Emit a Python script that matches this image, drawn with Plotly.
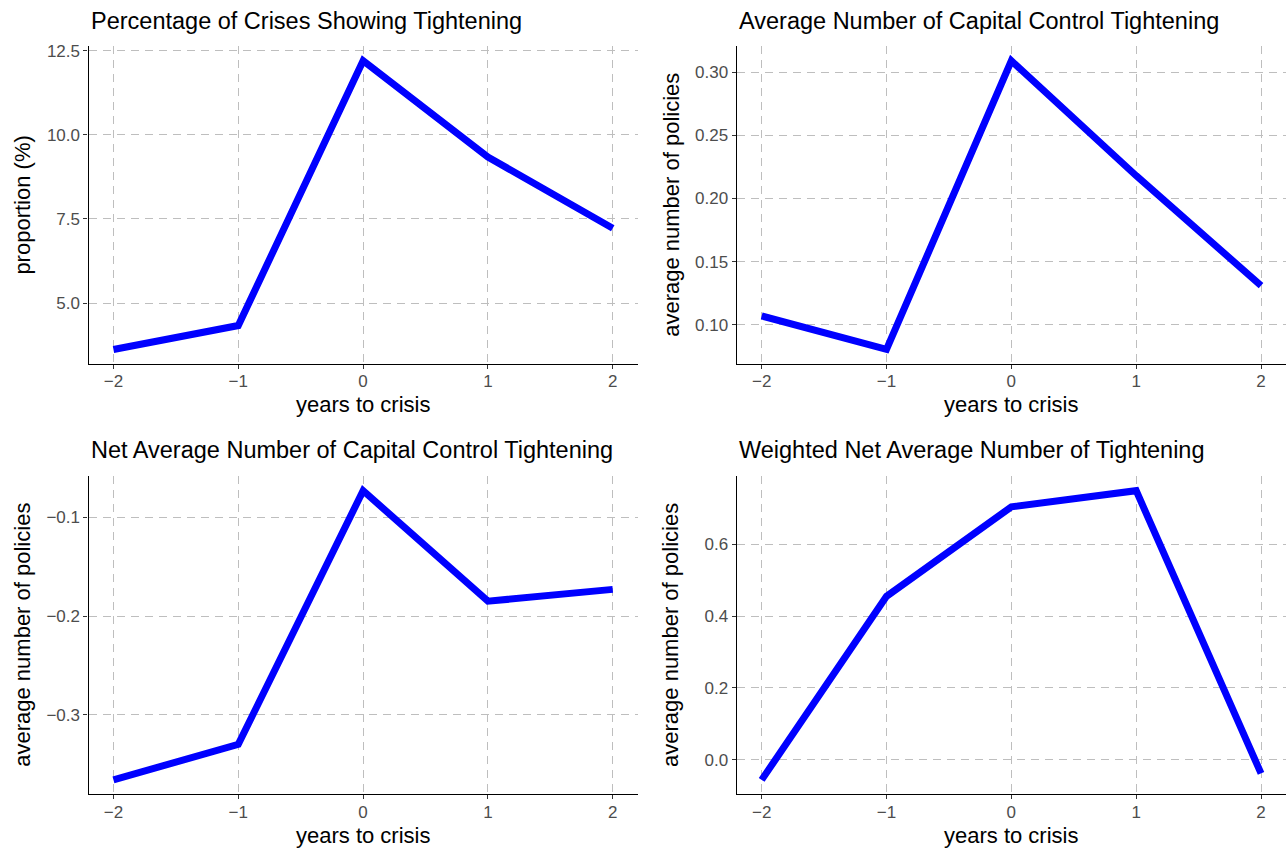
import plotly.graph_objects as go

# ---- data ----
years = [-2, -1, 0, 1, 2]
pct_tightening = [3.62, 4.33, 12.2, 9.34, 7.22]
avg_tightening = [0.107, 0.0805, 0.309, 0.218, 0.131]
net_avg_tightening = [-0.366, -0.330, -0.073, -0.185, -0.173]
weighted_net_avg = [-0.056, 0.455, 0.704, 0.749, -0.038]

titles = [
    "Percentage of Crises Showing Tightening",
    "Average Number of Capital Control Tightening",
    "Net Average Number of Capital Control Tightening",
    "Weighted Net Average Number of Tightening",
]
y_titles = ["proportion (%)", "average number of policies",
            "average number of policies", "average number of policies"]
x_title = "years to crisis"
y_tickvals = [
    [5.0, 7.5, 10.0, 12.5],
    [0.10, 0.15, 0.20, 0.25, 0.30],
    [-0.3, -0.2, -0.1],
    [0.0, 0.2, 0.4, 0.6],
]
y_fmt = [".1f", ".2f", ".1f", ".1f"]
series = [pct_tightening, avg_tightening, net_avg_tightening, weighted_net_avg]

W, H = 1286, 850
# panel geometry in pixels (left, right, top, bottom)
cols = [(88.5, 637.7), (736.7, 1286.0)]
rows = [(41.6, 361.0), (474.0, 794.0)]

fig = go.Figure()
layout = dict(
    width=W, height=H,
    margin=dict(l=0, r=0, t=0, b=0),
    paper_bgcolor="white", plot_bgcolor="white",
    showlegend=False,
    font=dict(family="Liberation Sans, Arial, sans-serif"),
)
annotations = []

for i, vals in enumerate(series):
    r, c = divmod(i, 2)
    xl, xr = cols[c]
    yt, yb = rows[r]
    sfx = "" if i == 0 else str(i + 1)
    fig.add_trace(go.Scatter(
        x=years, y=vals, mode="lines",
        line=dict(color="#0000FF", width=7),
        xaxis="x" + sfx, yaxis="y" + sfx, hoverinfo="skip",
    ))
    lo, hi = min(vals), max(vals)
    pad = 0.05 * (hi - lo)
    common = dict(
        showline=True, linecolor="black", linewidth=1.2,
        ticks="outside", ticklen=4, tickwidth=1.1, tickcolor="#333333",
        tickfont=dict(size=17, color="#4D4D4D"),
        showgrid=True, gridcolor="#BEBEBE", gridwidth=1.4, griddash="8px,6px",
        zeroline=False, mirror=False,
    )
    layout["xaxis" + sfx] = dict(
        common, domain=[xl / W, xr / W], anchor="y" + sfx,
        range=[-2.2, 2.2], tickmode="array", tickvals=years,
        ticklabelstandoff=-2,
    )
    layout["yaxis" + sfx] = dict(
        common, domain=[1 - yb / H, 1 - yt / H], anchor="x" + sfx,
        range=[lo - pad, hi + pad], tickmode="array",
        tickvals=y_tickvals[i], tickformat=y_fmt[i],
    )
    # panel title
    annotations.append(dict(
        text=titles[i], x=xl / W, y=1 - (yt - 26) / H,
        xref="paper", yref="paper", xanchor="left", yanchor="middle",
        showarrow=False, font=dict(size=23.5, color="black"),
    ))
    # x-axis title
    annotations.append(dict(
        text=x_title, x=((xl + xr) / 2) / W, y=1 - (yb + 41) / H,
        xref="paper", yref="paper", xanchor="center", yanchor="middle",
        showarrow=False, font=dict(size=22, color="black"),
    ))
    # y-axis title
    annotations.append(dict(
        text=y_titles[i], x=(xl - 66) / W, y=1 - ((yt + yb) / 2) / H,
        xref="paper", yref="paper", xanchor="center", yanchor="middle",
        textangle=-90, showarrow=False, font=dict(size=22, color="black"),
    ))

layout["annotations"] = annotations
fig.update_layout(**layout)
fig.write_html(
    "out.html",
    config={"displayModeBar": False},
    post_script="document.body.style.margin='0';document.body.style.overflow='hidden';",
)
